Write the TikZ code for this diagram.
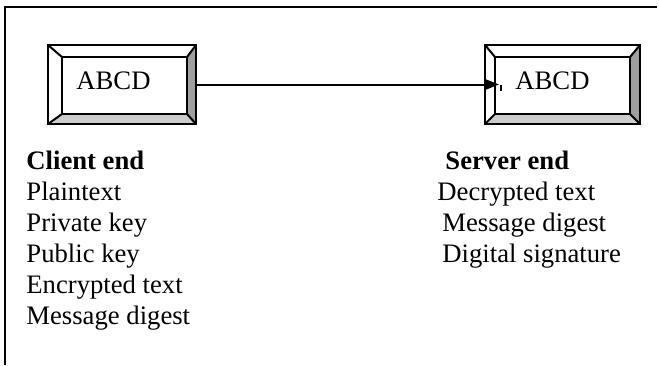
\documentclass[tikz,border=0pt]{standalone}
\usepackage{fontspec}
\setmainfont{Liberation Serif}
\usetikzlibrary{arrows.meta,calc,fit,positioning}

\begin{document}
\begin{tikzpicture}[x=0.45pt,y=-0.45pt,
  every node/.style={font=\fontsize{12}{14}\selectfont},
  txt/.style={anchor=base west,inner sep=0pt},
  rim/.style={line width=0.9pt,line join=miter}]

\useasboundingbox (0,0) rectangle (659,365);

% frame, open on the right
\draw[line width=0.8pt] (5,365) -- (5,7) -- (657,7);

% the two bevelled boxes
\foreach \nm/\xa/\xb/\ia/\ib/\tx in {cli/48/196/62/187/76, srv/485/640/495/630/515}
{
  \fill[gray!40] (\xa,124) -- (\xb,124) -- (\ib,114) -- (\ia,114) -- cycle;
  \fill[gray!75] (\xb,45) -- (\xb,124) -- (\ib,114) -- (\ib,57) -- cycle;
  \draw[rim] (\xa,45) -- (\ia,57) (\xb,45) -- (\ib,57)
             (\xa,124) -- (\ia,114) (\xb,124) -- (\ib,114);
  \node[rim,draw,inner sep=0pt,fit={(\xa,45) (\xb,124)}] (\nm) {};
  \node[rim,draw,inner sep=0pt,fit={(\ia,57) (\ib,114)}] (\nm-in) {};
  \node[txt] (\nm-txt) at (\tx,89) {ABCD};
}

% connector
\coordinate (tip) at ($(cli.east -| srv-in.west)+(5,0)$);
\draw[line width=0.9pt,-{Triangle[length=5.9pt,width=4.4pt]}] (cli.east) -- (tip);
\draw[line width=0.6pt] ($(tip)+(2,0)$) -- ++(0,6);

% client side list
\node[txt] (c0) at (26,169) {\bfseries Client end};
\foreach \t [count=\i] in {Plaintext, Private key, Public key, Encrypted text, Message digest}
  \node[txt] (c\i) at (26,{169+31*\i}) {\t};

% server side list
\node[txt] (s0) at (445,169) {\bfseries Server end};
\foreach \t/\x [count=\i] in {Decrypted text/437, Message digest/442, Digital signature/442}
  \node[txt] (s\i) at (\x,{169+31*\i}) {\t};

\end{tikzpicture}
\end{document}
